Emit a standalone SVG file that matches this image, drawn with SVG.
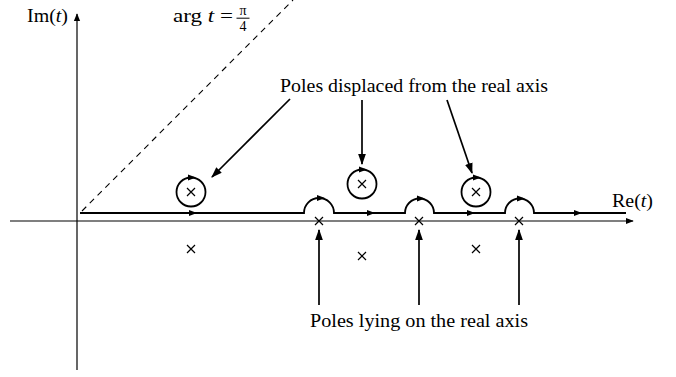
<svg xmlns="http://www.w3.org/2000/svg" width="676" height="377" viewBox="0 0 676 377">
<style>
.ln{stroke:#000;stroke-width:1.7;fill:none}
.ax{stroke:#000;stroke-width:1.2;fill:none}
.ct{stroke:#000;stroke-width:1.8;fill:none}
.x{stroke:#000;stroke-width:1.2}
.t{font-family:"Liberation Serif","DejaVu Serif",serif;font-size:18.5px;fill:#000}
.fr{font-family:"Liberation Serif","DejaVu Serif",serif;font-size:14px;fill:#000}
.ah{fill:#000}
</style>
<defs>
<marker id="ar" viewBox="0 0 10 10" refX="9" refY="5" markerWidth="8" markerHeight="8" markerUnits="userSpaceOnUse" orient="auto"><path d="M0,1 L10,5 L0,9 z" class="ah"/></marker>
<marker id="arB" viewBox="0 0 10 10" refX="9" refY="5" markerWidth="11" markerHeight="11" markerUnits="userSpaceOnUse" orient="auto"><path d="M0,1.5 L10,5 L0,8.5 z" class="ah"/></marker>
<path id="tri" d="M-4,-3 L4,0 L-4,3 z"/>
</defs>
<rect width="676" height="377" fill="#fff"/>
<g id="axes">
<line class="ax" x1="77" y1="370" x2="77" y2="14" marker-end="url(#ar)"/>
<line class="ax" x1="10" y1="221" x2="633" y2="221" marker-end="url(#ar)"/>
<line x1="82" y1="211" x2="293" y2="0" stroke="#000" stroke-width="1.1" stroke-dasharray="6,5"/>
</g>
<g id="labels">
<text class="t" x="27" y="22" textLength="41" lengthAdjust="spacingAndGlyphs">Im(<tspan font-style="italic">t</tspan>)</text>
<text class="t" x="173" y="22" textLength="60" lengthAdjust="spacingAndGlyphs">arg <tspan font-style="italic">t</tspan> =</text>
<text class="fr" text-anchor="middle"><tspan x="243" y="15">π</tspan><tspan x="243" y="31">4</tspan></text>
<line x1="236.5" y1="18.2" x2="249.5" y2="18.2" stroke="#000" stroke-width="1"/>
<text class="t" x="612" y="207" textLength="41" lengthAdjust="spacingAndGlyphs">Re(<tspan font-style="italic">t</tspan>)</text>
</g>
<g id="contour">
<path class="ct" d="M80,213 H304 A15,15 0 0 1 334,213 H405 A14.5,14.5 0 0 1 434,213 H505 A14.5,14.5 0 0 1 534,213 H626"/>
<use href="#tri" transform="translate(193,213)"/>
<use href="#tri" transform="translate(371,213)"/>
<use href="#tri" transform="translate(471,213)"/>
<use href="#tri" transform="translate(578,213)"/>
<use href="#tri" transform="translate(321,198)"/>
<use href="#tri" transform="translate(421,198.5)"/>
<use href="#tri" transform="translate(521,198.5)"/>
</g>
<g id="circle1">
<circle class="ct" cx="191" cy="192" r="14.5"/>
<use href="#tri" transform="translate(192,177.5)"/>
<path class="x" d="M187,188 L195,196 M195,188 L187,196"/>
</g>
<g id="circle2">
<circle class="ct" cx="362" cy="184" r="14.5"/>
<use href="#tri" transform="translate(363,169.5)"/>
<path class="x" d="M358,180 L366,188 M366,180 L358,188"/>
</g>
<g id="circle3">
<circle class="ct" cx="476" cy="192" r="14.5"/>
<use href="#tri" transform="translate(477,177.5)"/>
<path class="x" d="M472,188 L480,196 M480,188 L472,196"/>
</g>
<g id="poles">
<path class="x" d="M315,217 L323,225 M323,217 L315,225"/>
<path class="x" d="M415,217 L423,225 M423,217 L415,225"/>
<path class="x" d="M515,217 L523,225 M523,217 L515,225"/>
<path class="x" d="M187,245 L195,253 M195,245 L187,253"/>
<path class="x" d="M358,252 L366,260 M366,252 L358,260"/>
<path class="x" d="M472,245 L480,253 M480,245 L472,253"/>
</g>
<g id="label-displaced">
<text class="t" x="280" y="92" textLength="268" lengthAdjust="spacingAndGlyphs">Poles displaced from the real axis</text>
</g>
<g id="label-lying">
<text class="t" x="310" y="327" textLength="218" lengthAdjust="spacingAndGlyphs">Poles lying on the real axis</text>
</g>
<g id="connectors">
<line class="ln" x1="290" y1="99" x2="212" y2="177" marker-end="url(#arB)"/>
<line class="ln" x1="362" y1="100" x2="362" y2="164" marker-end="url(#arB)"/>
<line class="ln" x1="447" y1="100" x2="472" y2="173" marker-end="url(#arB)"/>
<line class="ln" x1="319" y1="305" x2="319" y2="230" marker-end="url(#arB)"/>
<line class="ln" x1="419" y1="305" x2="419" y2="230" marker-end="url(#arB)"/>
<line class="ln" x1="519" y1="305" x2="519" y2="230" marker-end="url(#arB)"/>
</g>
</svg>
